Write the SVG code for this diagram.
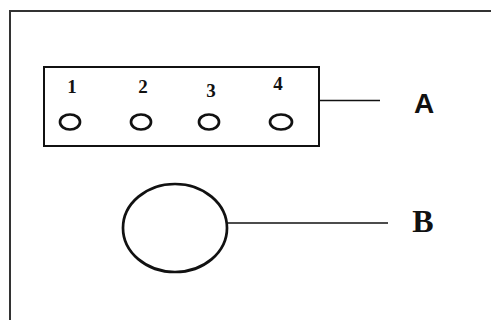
<svg xmlns="http://www.w3.org/2000/svg" width="491" height="320" viewBox="0 0 491 320">
<style>
.s{fill:none;stroke:#111;stroke-width:2.7}
.f{fill:none;stroke:#333;stroke-width:2}
.ln{stroke:#111;stroke-width:1.5}
.n{font-family:"Liberation Serif",serif;font-weight:bold;font-size:19px;fill:#111;text-anchor:middle}
</style>
<rect width="491" height="320" fill="#fff"/>
<rect x="10" y="11" width="490" height="320" class="f"/>
<g id="A">
<rect x="44" y="67" width="275" height="79" fill="#fff" stroke="#111" stroke-width="2"/>
<text x="72" y="93" class="n">1</text>
<text x="143" y="93" class="n">2</text>
<text x="211" y="97" class="n">3</text>
<text x="278" y="90" class="n">4</text>
<ellipse cx="70" cy="122" rx="10" ry="7.5" class="s"/>
<ellipse cx="141" cy="122" rx="10" ry="7.5" class="s"/>
<ellipse cx="209" cy="122" rx="10" ry="7.5" class="s"/>
<ellipse cx="281" cy="122" rx="11" ry="7.5" class="s"/>
</g>
<g id="B">
<ellipse cx="175" cy="228" rx="52" ry="44" class="s"/>
</g>
<g id="connectors">
<line x1="319" y1="100.5" x2="380" y2="100.5" class="ln"/>
<line x1="228" y1="223" x2="388" y2="223" class="ln"/>
</g>
<g id="labelA"><text x="424" y="113" font-family="Liberation Sans,sans-serif" font-weight="bold" font-size="28" fill="#111" text-anchor="middle">A</text></g>
<g id="labelB"><text x="423" y="232" font-family="Liberation Serif,serif" font-weight="bold" font-size="32" fill="#111" text-anchor="middle">B</text></g>
</svg>
